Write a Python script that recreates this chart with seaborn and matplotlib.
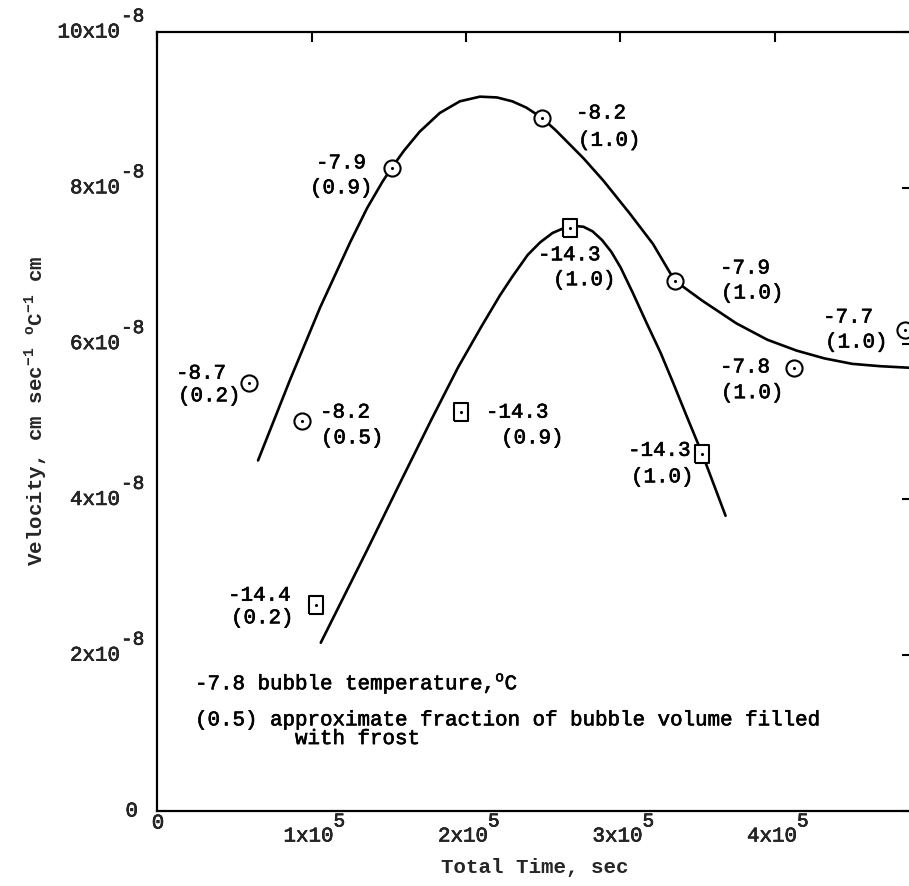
import numpy as np
import pandas as pd
import matplotlib
matplotlib.use("Agg")
import matplotlib.pyplot as plt
import matplotlib.patheffects as pe
from matplotlib.transforms import blended_transform_factory, offset_copy
import seaborn as sns

# ---- data (time in units of 1e5 s, velocity in units of 1e-8) ----
circle_time = [0.595, 0.94, 1.52, 2.49, 3.35, 4.12, 4.84]
circle_vel = [5.50, 5.01, 8.26, 8.90, 6.81, 5.69, 6.17]
circle_temp = ["-8.7", "-8.2", "-7.9", "-8.2", "-7.9", "-7.8", "-7.7"]
circle_frac = ["(0.2)", "(0.5)", "(0.9)", "(1.0)", "(1.0)", "(1.0)", "(1.0)"]

square_time = [1.03, 1.97, 2.67, 3.53]
square_vel = [2.64, 5.12, 7.49, 4.58]
square_temp = ["-14.4", "-14.3", "-14.3", "-14.3"]
square_frac = ["(0.2)", "(0.9)", "(1.0)", "(1.0)"]

upper_curve_time = [0.654, 0.86, 1.055, 1.25, 1.36, 1.46, 1.52, 1.60, 1.70, 1.83, 1.96,
                    2.09, 2.20, 2.30, 2.39, 2.49, 2.58, 2.67, 2.76, 2.89, 3.06, 3.21,
                    3.35, 3.53, 3.75, 3.95, 4.14, 4.32, 4.50, 4.68, 4.87]
upper_curve_vel = [4.50, 5.53, 6.46, 7.30, 7.74, 8.08, 8.26, 8.48, 8.72, 8.96, 9.11,
                   9.17, 9.16, 9.11, 9.03, 8.90, 8.74, 8.56, 8.38, 8.09, 7.67, 7.28,
                   6.81, 6.55, 6.26, 6.05, 5.91, 5.81, 5.74, 5.71, 5.69]

lower_curve_time = [1.06, 1.36, 1.57, 1.78, 1.95, 2.10, 2.22, 2.30, 2.40, 2.48, 2.56,
                    2.63, 2.70, 2.76, 2.82, 2.88, 2.94, 3.00, 3.08, 3.17, 3.26, 3.34,
                    3.43, 3.53, 3.68]
lower_curve_vel = [2.16, 3.35, 4.20, 5.04, 5.70, 6.22, 6.62, 6.86, 7.14, 7.30, 7.42,
                   7.48, 7.51, 7.50, 7.44, 7.33, 7.18, 6.98, 6.65, 6.26, 5.88, 5.50,
                   5.06, 4.58, 3.79]

x_ticks = [0, 1, 2, 3, 4]
x_tick_base = ["0", "1x10", "2x10", "3x10", "4x10"]
x_tick_exp = ["", "5", "5", "5", "5"]
y_ticks = [0, 2, 4, 6, 8, 10]
y_tick_base = ["0", "2x10", "4x10", "6x10", "8x10", "10x10"]
y_tick_exp = ["", "-8", "-8", "-8", "-8", "-8"]

# label text placement (left edge, vertical centre) for temp / fraction lines
circle_temp_pos = [(0.123, 5.62), (1.055, 5.12), (1.029, 8.32), (2.712, 8.96),
                   (3.644, 6.97), (3.644, 5.70), (4.311, 6.34)]
circle_frac_pos = [(0.136, 5.33), (1.061, 4.79), (0.990, 8.00), (2.725, 8.61),
                   (3.650, 6.65), (3.650, 5.37), (4.324, 6.02)]
square_temp_pos = [(0.460, 2.77), (2.129, 5.12), (2.466, 7.14), (3.049, 4.63)]
square_frac_pos = [(0.479, 2.48), (2.227, 4.79), (2.563, 6.82), (3.068, 4.29)]

sns.set_theme(style="white")
plt.rcParams["font.family"] = ["Liberation Mono", "DejaVu Sans Mono"]
plt.rcParams["mathtext.fontset"] = "custom"
plt.rcParams["mathtext.rm"] = "Liberation Mono"

W, H = 909, 886
fig = plt.figure(figsize=(W / 100, H / 100), dpi=100)
left_px, right_px, top_px, bottom_px = 157, 912, 32, 811
ax = fig.add_axes([left_px / W, 1 - bottom_px / H,
                   (right_px - left_px) / W, (bottom_px - top_px) / H])

thick = [pe.withStroke(linewidth=0.45, foreground="black")]

curve_up = pd.DataFrame({"t": upper_curve_time, "v": upper_curve_vel})
curve_lo = pd.DataFrame({"t": lower_curve_time, "v": lower_curve_vel})
sns.lineplot(data=curve_up, x="t", y="v", sort=False, estimator=None,
             color="black", linewidth=1.9, ax=ax)
sns.lineplot(data=curve_lo, x="t", y="v", sort=False, estimator=None,
             color="black", linewidth=1.9, ax=ax)

circ = pd.DataFrame({"t": circle_time, "v": circle_vel})
sq = pd.DataFrame({"t": square_time, "v": square_vel})
rect = [(-0.8, -1), (0.8, -1), (0.8, 1), (-0.8, 1), (-0.8, -1)]
sns.scatterplot(data=circ, x="t", y="v", marker="o", s=135, facecolor="white",
                edgecolor="black", linewidth=1.5, zorder=5, ax=ax)
sns.scatterplot(data=sq, x="t", y="v", marker=rect, s=160, facecolor="white",
                edgecolor="black", linewidth=1.5, zorder=5, ax=ax)
sns.scatterplot(data=pd.concat([circ, sq]), x="t", y="v", marker="o", s=5,
                color="black", linewidth=0, zorder=6, ax=ax)

fs = 15
for txt, (x, y) in zip(circle_temp + square_temp, circle_temp_pos + square_temp_pos):
    ax.text(x, y, txt, ha="left", va="center", fontsize=fs, color="black", path_effects=thick)
for txt, (x, y) in zip(circle_frac + square_frac, circle_frac_pos + square_frac_pos):
    ax.text(x, y, txt, ha="left", va="center", fontsize=fs, color="black", path_effects=thick)

ax.text(0.246, 1.64, r"-7.8 bubble temperature,$^{\mathregular{o}}$C",
        ha="left", va="center", fontsize=fs, color="black", path_effects=thick)
ax.text(0.246, 1.17, "(0.5) approximate fraction of bubble volume filled",
        ha="left", va="center", fontsize=fs, color="black", path_effects=thick)
ax.text(0.893, 0.93, "with frost", ha="left", va="center", fontsize=fs,
        color="black", path_effects=thick)

ax.set_xlim(0, (right_px - left_px) / 154.5)
ax.set_ylim(0, 10)
ax.set_xticks(x_ticks)
ax.set_xticklabels([""] * len(x_ticks))
ax.set_yticks(y_ticks)
ax.set_yticklabels([""] * len(y_ticks))
ax.tick_params(axis="both", direction="in", length=7, width=1.5, colors="black",
               top=True, right=True)

# tick labels with full-size exponents, as in the typed original
tr_y = blended_transform_factory(ax.transAxes, ax.transData)
tr_x = blended_transform_factory(ax.transData, ax.transAxes)
for v, base, ex in zip(y_ticks, y_tick_base, y_tick_exp):
    if ex:
        ax.text(0, v, base, transform=offset_copy(tr_y, fig, x=-37, y=0, units="dots"),
                ha="right", va="center", fontsize=fs, path_effects=thick)
        ax.text(0, v, ex, transform=offset_copy(tr_y, fig, x=-36, y=15, units="dots"),
                ha="left", va="center", fontsize=14, path_effects=thick)
    else:
        ax.text(0, v, base, transform=offset_copy(tr_y, fig, x=-19, y=0, units="dots"),
                ha="right", va="center", fontsize=fs, path_effects=thick)
for t, base, ex in zip(x_ticks, x_tick_base, x_tick_exp):
    if ex:
        ax.text(t, 0, base, transform=offset_copy(tr_x, fig, x=-3, y=-25, units="dots"),
                ha="center", va="center", fontsize=fs, path_effects=thick)
        ax.text(t, 0, ex, transform=offset_copy(tr_x, fig, x=22, y=-11, units="dots"),
                ha="left", va="center", fontsize=14, path_effects=thick)
    else:
        ax.text(t, 0, base, transform=offset_copy(tr_x, fig, x=1, y=-12, units="dots"),
                ha="center", va="center", fontsize=fs, path_effects=thick)

for s in ax.spines.values():
    s.set_visible(True)
    s.set_color("black")
    s.set_linewidth(1.6)

ax.set_xlabel("Total Time, sec", fontsize=fs, fontweight="bold")
ax.set_ylabel(r"Velocity, cm sec$^{\mathregular{-1}}$ $^{\mathregular{o}}$C$^{\mathregular{-1}}$ cm",
              fontsize=fs, fontweight="bold")
ax.xaxis.set_label_coords((535 - left_px) / (right_px - left_px), -(858 - bottom_px) / (bottom_px - top_px))
ax.yaxis.set_label_coords(-(157 - 50) / (right_px - left_px), (bottom_px - 411) / (bottom_px - top_px))

fig.savefig("out.png", dpi=100)
